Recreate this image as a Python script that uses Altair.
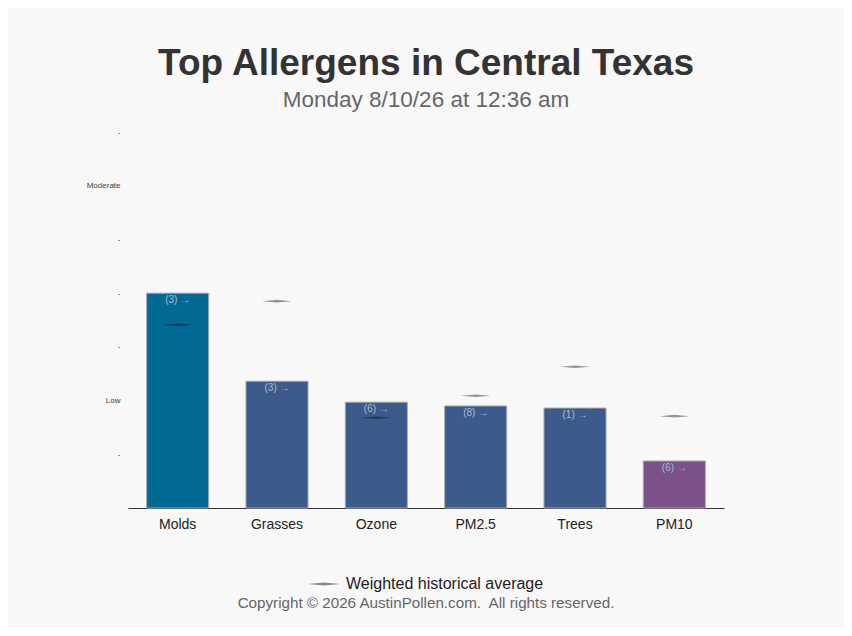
import altair as alt
import pandas as pd

categories = ["Molds", "Grasses", "Ozone", "PM2.5", "Trees", "PM10"]
levels = [4.0, 2.36, 1.97, 1.90, 1.86, 0.875]
averages = [3.41, 3.85, 1.68, 2.09, 2.63, 1.71]
counts = [3, 3, 6, 8, 1, 6]
bar_colors = ["#006994", "#3d5b8a", "#3d5b8a", "#3d5b8a", "#3d5b8a", "#7a5188"]

df = pd.DataFrame({
    "name": categories,
    "level": levels,
    "avg": averages,
    "label": [f"({c}) \u2192" for c in counts],
})
foot = pd.DataFrame({"t": ["Copyright \u00a9 2026 AustinPollen.com.\u00a0 All rights reserved."]})

FONT = "Liberation Sans"
DIAMOND = "M-1,0L0,-0.09L1,0L0,0.09Z"

x = alt.X("name:N", sort=categories, title=None,
          scale=alt.Scale(paddingInner=0.375, paddingOuter=0.1875),
          axis=alt.Axis(labelAngle=0, labelFontSize=14, labelColor="#222",
                        labelFont=FONT, ticks=False, domainColor="#333",
                        labelPadding=9))
y = alt.Y("level:Q", title=None, scale=alt.Scale(domain=[0, 7], nice=False),
          axis=alt.Axis(values=[1, 2, 3, 4, 5, 6, 7], grid=False, domain=False,
                        ticks=False, labelFontSize=8, labelColor="#444",
                        labelFont=FONT, labelPadding=8,
                        labelExpr="datum.value == 2 ? 'Low' : datum.value == 6 ? 'Moderate' : '-'"))

base = alt.Chart(df)

bars = base.mark_bar(stroke="#aaaaaa", strokeWidth=1).encode(
    x=x, y=y,
    color=alt.Color("name:N", scale=alt.Scale(domain=categories, range=bar_colors), legend=None),
)

labels = base.mark_text(fontSize=10, color="#a9bcd6", font=FONT, baseline="middle", dy=7).encode(
    x=alt.X("name:N", sort=categories), y="level:Q", text="label:N")

avg = base.mark_point(filled=True, color="#000000", opacity=0.4, size=900).encode(
    x=alt.X("name:N", sort=categories), y=alt.Y("avg:Q"),
    shape=alt.Shape("key:N",
                    scale=alt.Scale(domain=["Weighted historical average"], range=[DIAMOND]),
                    legend=alt.Legend(title=None, orient="none", legendX=180, legendY=436,
                                      labelFontSize=16, labelColor="#222", labelFont=FONT,
                                      labelLimit=0, symbolSize=1024, symbolFillColor="#000000",
                                      symbolStrokeWidth=0, symbolOpacity=0.45, labelOffset=6)),
).transform_calculate(key="'Weighted historical average'")

footer = alt.Chart(foot).mark_text(fontSize=15.2, color="#666", font=FONT, baseline="middle").encode(
    x=alt.value(298), y=alt.value(471), text="t:N")

chart = alt.layer(bars, labels, avg, footer).properties(
    width=596, height=376,
    background="#f8f8f8",
    padding={"left": 120, "top": 124, "right": 120, "bottom": 120},
    autosize=alt.AutoSizeParams(type="none"),
    title=alt.Title("Top Allergens in Central Texas",
                    subtitle="Monday 8/10/26 at 12:36 am",
                    font=FONT, fontSize=37, fontWeight="bold", color="#333",
                    subtitleFont=FONT, subtitleFontSize=22.5, subtitleColor="#666",
                    subtitlePadding=6, anchor="middle", offset=16),
).configure_view(stroke=None)

chart.save("out.html", embed_options={"renderer": "svg", "actions": False})
